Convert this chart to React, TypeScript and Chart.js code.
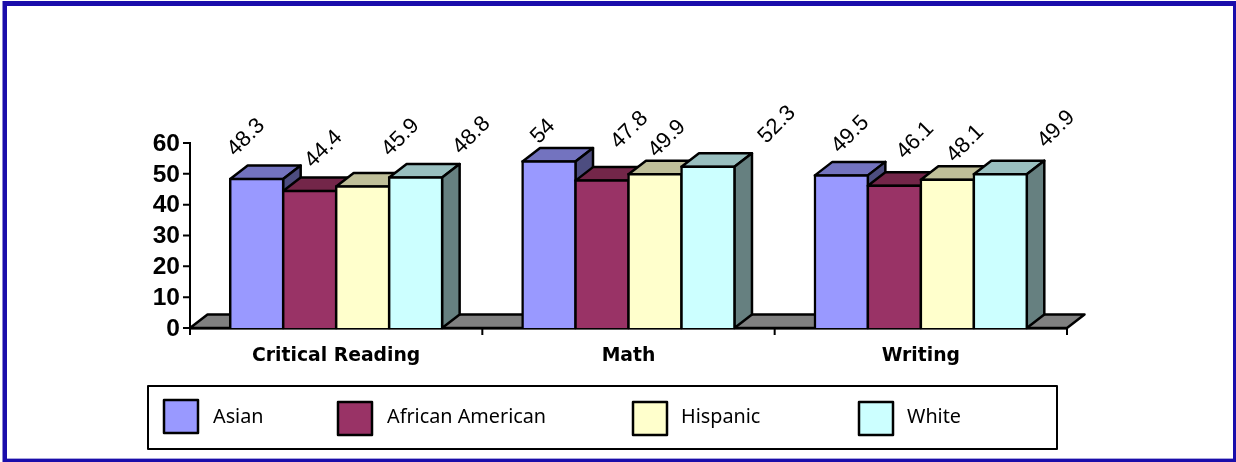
import React, { useEffect, useRef } from "react";
import { Chart, registerables } from "chart.js";

Chart.register(...registerables);

const categories = ["Critical Reading", "Math", "Writing"];
const asian = [48.3, 54, 49.5];
const africanAmerican = [44.4, 47.8, 46.1];
const hispanic = [45.9, 49.9, 48.1];
const white = [48.8, 52.3, 49.9];
const yTicks = [0, 10, 20, 30, 40, 50, 60];

const DEPTH_X = 17.5;
const DEPTH_Y = 13.5;
const LINE = 2.5;
const FACES: Record<string, { front: string; top: string; side: string }> = {
  Asian: { front: "#9999FF", top: "#7373BF", side: "#4D4D80" },
  "African American": { front: "#993366", top: "#732649", side: "#4D1933" },
  Hispanic: { front: "#FFFFCC", top: "#BFBF99", side: "#808066" },
  White: { front: "#CCFFFF", top: "#99BFBF", side: "#668080" },
};
// offset of each rotated value label from the top-centre of its bar: [series][category]
const LABEL_OFFSETS = [
  [[-10.5, -41.5], [-6, -30], [9, -41]],
  [[14, -42], [27.5, -50.5], [21, -45.5]],
  [[38, -49], [12, -35.5], [18, -36]],
  [[56, -42], [69, -42], [56, -45]],
];
const LEGEND_X = [164, 338, 633, 859];
const LEGEND_Y = [400, 402, 402, 402];
const LEGEND_TEXT_X = [213, 387, 681, 907];

function poly(ctx: CanvasRenderingContext2D, pts: number[][], fill: string) {
  ctx.beginPath();
  pts.forEach(([x, y], i) => (i ? ctx.lineTo(x, y) : ctx.moveTo(x, y)));
  ctx.closePath();
  ctx.fillStyle = fill;
  ctx.fill();
  ctx.lineWidth = LINE;
  ctx.strokeStyle = "#000";
  ctx.lineJoin = "round";
  ctx.stroke();
}

const frame = {
  id: "frame",
  beforeDraw(chart: any) {
    const c = chart.ctx;
    c.save();
    c.fillStyle = "#fff";
    c.fillRect(0, 0, chart.width, chart.height);
    c.fillStyle = "#1A0DAB";
    c.fillRect(2.5, 1, 1233.5, 461);
    c.fillStyle = "#A9A5DE";
    c.fillRect(7, 6, 1226, 453);
    c.fillStyle = "#fff";
    c.fillRect(7, 6, 1226, 452);
    c.restore();
  },
  beforeDatasetsDraw(chart: any) {
    const { left, right, bottom } = chart.chartArea;
    const c = chart.ctx;
    c.save();
    poly(
      c,
      [
        [left, bottom],
        [left + DEPTH_X, bottom - DEPTH_Y],
        [right + DEPTH_X, bottom - DEPTH_Y],
        [right, bottom],
      ],
      "#808080"
    );
    c.restore();
  },
  // bars are painted below, series by series from left to right, so that each
  // one overlaps the side of its left-hand neighbour
  beforeDatasetDraw() {
    return false;
  },
  afterDatasetsDraw(chart: any) {
    const c = chart.ctx;
    c.save();
    chart.data.datasets.forEach((ds: any, i: number) => {
      const faces = FACES[ds.label];
      chart.getDatasetMeta(i).data.forEach((bar: any) => {
        const l = bar.x - bar.width / 2;
        const r = bar.x + bar.width / 2;
        const t = bar.y;
        const b = bar.base;
        poly(c, [[l, t], [l + DEPTH_X, t - DEPTH_Y], [r + DEPTH_X, t - DEPTH_Y], [r, t]], faces.top);
        poly(c, [[r, t], [r + DEPTH_X, t - DEPTH_Y], [r + DEPTH_X, b - DEPTH_Y], [r, b]], faces.side);
        bar.draw(c);
      });
    });
    chart.data.datasets.forEach((ds: any, i: number) => {
      chart.getDatasetMeta(i).data.forEach((bar: any, j: number) => {
        const [dx, dy] = LABEL_OFFSETS[i][j];
        c.save();
        c.translate(bar.x + dx, bar.y + dy);
        c.rotate(-Math.PI / 4);
        c.font = '22px "Liberation Sans"';
        c.fillStyle = "#000";
        c.textAlign = "center";
        c.textBaseline = "middle";
        c.fillText(String(ds.data[j]), 0, 0);
        c.restore();
      });
    });
    // legend
    c.fillStyle = "#fff";
    c.strokeStyle = "#000";
    c.lineWidth = 2;
    c.fillRect(148, 386, 909, 63);
    c.strokeRect(148, 386, 909, 63);
    chart.data.datasets.forEach((ds: any, i: number) => {
      c.fillStyle = ds.backgroundColor;
      c.lineWidth = LINE;
      c.fillRect(LEGEND_X[i], LEGEND_Y[i], 34, 33);
      c.strokeRect(LEGEND_X[i], LEGEND_Y[i], 34, 33);
      c.fillStyle = "#000";
      c.font = '19.8px "Noto Sans"';
      c.textAlign = "left";
      c.textBaseline = "middle";
      c.fillText(ds.label, LEGEND_TEXT_X[i], 417);
    });
    c.restore();
  },
};

const axisTicks = {
  id: "axisTicks",
  afterDraw(chart: any) {
    const c = chart.ctx;
    const { left, right, bottom } = chart.chartArea;
    c.save();
    c.strokeStyle = "#000";
    c.lineWidth = 2;
    c.beginPath();
    yTicks.forEach((v) => {
      const y = chart.scales.y.getPixelForValue(v);
      c.moveTo(left - 7, y);
      c.lineTo(left, y);
    });
    const step = (right - left) / categories.length;
    for (let i = 0; i <= categories.length; i++) {
      c.moveTo(left + i * step, bottom);
      c.lineTo(left + i * step, bottom + 7);
    }
    c.stroke();
    c.restore();
  },
};

export default function App() {
  const ref = useRef<HTMLCanvasElement>(null);
  useEffect(() => {
    document.body.style.margin = "0";
    const series = [
      ["Asian", asian],
      ["African American", africanAmerican],
      ["Hispanic", hispanic],
      ["White", white],
    ] as [string, number[]][];
    const chart = new Chart(ref.current!, {
      type: "bar",
      data: {
        labels: categories,
        datasets: series.map(([label, data]) => ({
          label,
          data,
          backgroundColor: FACES[label].front,
          borderColor: "#000",
          borderWidth: LINE,
          inflateAmount: LINE / 2,
        })),
      },
      options: {
        animation: false,
        responsive: false,
        devicePixelRatio: 1,
        categoryPercentage: 0.725,
        barPercentage: 1,
        layout: { padding: { left: 0, right: 169, top: 143, bottom: 0 } },
        plugins: { legend: { display: false }, tooltip: { enabled: false }, title: { display: false } },
        scales: {
          x: {
            grid: { display: false, color: "#000" },
            border: { color: "#000", width: 2.5 },
            ticks: { color: "#000", font: { family: "DejaVu Sans", size: 18.8, weight: "bold" }, padding: 9, maxRotation: 0 },
            afterFit: (s: any) => { s.height = 134; },
          },
          y: {
            min: 0,
            max: 60,
            afterBuildTicks: (s: any) => { s.ticks = yTicks.map((value) => ({ value })); },
            grid: { display: false, color: "#000" },
            border: { color: "#000", width: 2 },
            ticks: { color: "#000", font: { family: "Liberation Sans", size: 24.5, weight: "bold" }, padding: 2, labelOffset: 1, autoSkip: false },
            afterFit: (s: any) => { s.width = 190; },
          },
        },
      } as any,
      plugins: [frame, axisTicks] as any,
    });
    return () => chart.destroy();
  }, []);
  return <canvas ref={ref} width={1236} height={462} style={{ display: "block" }} />;
}
